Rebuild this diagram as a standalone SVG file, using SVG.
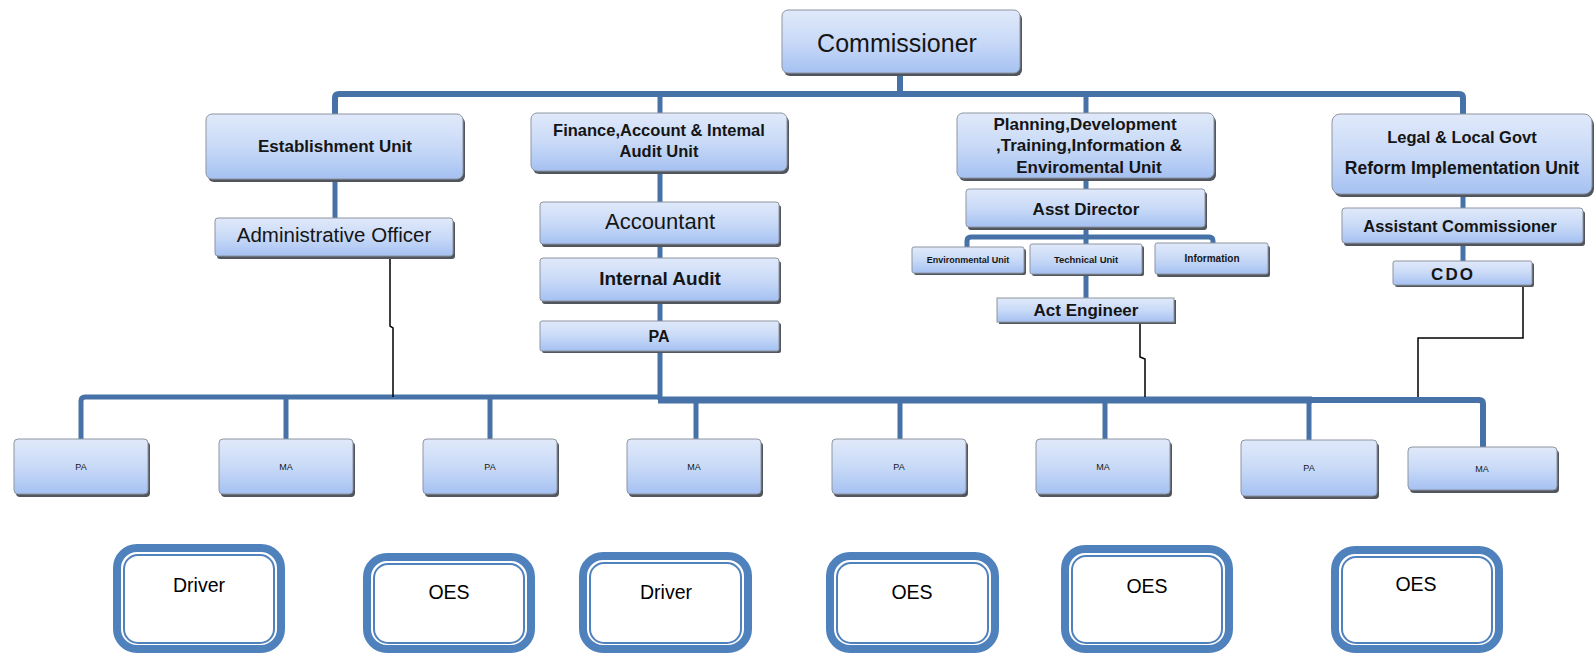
<svg xmlns="http://www.w3.org/2000/svg" width="1594" height="653" viewBox="0 0 1594 653">
  <defs>
    <linearGradient id="boxFill" x1="0" y1="0" x2="0" y2="1">
      <stop offset="0" stop-color="#e0e9fa"/>
      <stop offset="0.5" stop-color="#c9daf7"/>
      <stop offset="1" stop-color="#a5c1f2"/>
    </linearGradient>
    <style>
      .sh { fill: #50555e; }
      .bx { fill: url(#boxFill); stroke: #8e95a0; stroke-width: 1; }
      .t { font-family: "Liberation Sans", Arial, sans-serif; text-anchor: middle; fill: #151515; }
      .b { font-weight: bold; }
      .bus { fill: none; stroke: #4672a8; stroke-linejoin: round; stroke-linecap: butt; }
      .w6 { stroke-width: 6; }
      .w5 { stroke-width: 5; }
      .w7 { stroke-width: 7; }
      .thin { fill: none; stroke: #000; stroke-width: 1.5; }
      .outer { fill: #fff; stroke: #4f81bd; stroke-width: 8; }
      .inner { fill: none; stroke: #4f81bd; stroke-width: 2; }
      .lbl { font-family: "Liberation Sans", Arial, sans-serif; text-anchor: middle; fill: #000; font-size: 19.5px; }
    </style>
  </defs>

  <rect x="0" y="0" width="1594" height="653" fill="#fff"/>

  <!-- connectors -->
  <g id="connectors">
    <!-- top bus and unit stems -->
    <path class="bus w6" d="M335,114 V98 Q335,94 339,94 H1459 Q1463,94 1463,98 V114"/>
    <path class="bus w6" d="M900,73 V94"/>
    <path class="bus w5" d="M660,94 V113"/>
    <path class="bus w5" d="M1086,94 V113"/>
    <!-- establishment chain -->
    <path class="bus w5" d="M335,179 V218"/>
    <!-- finance chain -->
    <path class="bus w5" d="M660,171 V202 M660,244 V258 M660,301 V321 M660,351 V400"/>
    <!-- planning chain -->
    <path class="bus w5" d="M1086,178 V189 M1086,227 V298"/>
    <path class="bus w5" d="M967,247 V241 Q967,237 971,237 H1209 Q1213,237 1213,241 V243"/>
    <!-- legal chain -->
    <path class="bus w5" d="M1463,194 V208 M1463,243 V261"/>
    <!-- lower bus -->
    <path class="bus w5" d="M81,439 V401 Q81,397 85,397 H660"/>
    <path class="bus w7" d="M658,400 H1312"/>
    <path class="bus w5" d="M1309,400 V440"/>
    <path class="bus w6" d="M1309,400 H1479 Q1483,400 1483,404 V447"/>
    <path class="bus w5" d="M286,397 V439 M490,397 V439 M696,400 V439 M900,400 V439 M1105,400 V439"/>
    <!-- thin reporting lines -->
    <path class="thin" d="M390,256 V326 L393,328 V397"/>
    <path class="thin" d="M1140,322 V357 L1145,359 V397"/>
    <path class="thin" d="M1523,285 V338 H1418 V397"/>
  </g>

  <g id="commissioner">
    <rect class="sh" x="784" y="13" width="238" height="63" rx="6"/>
    <rect class="bx" x="782" y="10" width="238" height="63" rx="6"/>
    <text class="t" x="897" y="52" font-size="25">Commissioner</text>
  </g>

  <g id="establishment-unit">
    <rect class="sh" x="208" y="117" width="257" height="65" rx="6"/>
    <rect class="bx" x="206" y="114" width="257" height="65" rx="6"/>
    <text class="t b" x="335" y="152" font-size="17">Establishment Unit</text>
  </g>

  <g id="administrative-officer">
    <rect class="sh" x="217" y="221" width="238" height="38" rx="3"/>
    <rect class="bx" x="215" y="218" width="238" height="38" rx="3"/>
    <text class="t" x="334" y="242" font-size="20.5">Administrative Officer</text>
  </g>

  <g id="finance-unit">
    <rect class="sh" x="533" y="116" width="256" height="58" rx="6"/>
    <rect class="bx" x="531" y="113" width="256" height="58" rx="6"/>
    <text class="t b" x="659" y="136" font-size="16.5">Finance,Account &amp; Intemal</text>
    <text class="t b" x="659" y="157" font-size="16.5">Audit Unit</text>
  </g>

  <g id="accountant">
    <rect class="sh" x="542" y="205" width="239" height="42" rx="3"/>
    <rect class="bx" x="540" y="202" width="239" height="42" rx="3"/>
    <text class="t" x="660" y="229" font-size="22">Accountant</text>
  </g>

  <g id="internal-audit">
    <rect class="sh" x="542" y="261" width="239" height="43" rx="3"/>
    <rect class="bx" x="540" y="258" width="239" height="43" rx="3"/>
    <text class="t b" x="660" y="285" font-size="19">Internal Audit</text>
  </g>

  <g id="finance-pa">
    <rect class="sh" x="542" y="323" width="239" height="30" rx="2"/>
    <rect class="bx" x="540" y="321" width="239" height="30" rx="2"/>
    <text class="t b" x="659" y="342" font-size="16">PA</text>
  </g>

  <g id="planning-unit">
    <rect class="sh" x="959" y="116" width="257" height="65" rx="6"/>
    <rect class="bx" x="957" y="113" width="257" height="65" rx="6"/>
    <text class="t b" x="1085" y="130" font-size="17">Planning,Development</text>
    <text class="t b" x="1089" y="151" font-size="17">,Training,Information &amp;</text>
    <text class="t b" x="1089" y="173" font-size="17">Enviromental Unit</text>
  </g>

  <g id="asst-director">
    <rect class="sh" x="968" y="192" width="239" height="38" rx="3"/>
    <rect class="bx" x="966" y="189" width="239" height="38" rx="3"/>
    <text class="t b" x="1086" y="215" font-size="17">Asst Director</text>
  </g>

  <g id="environmental-unit">
    <rect class="sh" x="914" y="249" width="112" height="26" rx="2"/>
    <rect class="bx" x="912" y="247" width="112" height="26" rx="2"/>
    <text class="t b" x="968" y="263" font-size="9">Environmental Unit</text>
  </g>

  <g id="technical-unit">
    <rect class="sh" x="1032" y="246" width="112" height="30" rx="2"/>
    <rect class="bx" x="1030" y="244" width="112" height="30" rx="2"/>
    <text class="t b" x="1086" y="263" font-size="9.5">Technical Unit</text>
  </g>

  <g id="information">
    <rect class="sh" x="1157" y="246" width="113" height="31" rx="2"/>
    <rect class="bx" x="1155" y="243" width="113" height="31" rx="2"/>
    <text class="t b" x="1212" y="262" font-size="10">Information</text>
  </g>

  <g id="act-engineer">
    <rect class="sh" x="999" y="300" width="177" height="24"/>
    <rect class="bx" x="997" y="298" width="177" height="24"/>
    <text class="t b" x="1086" y="316" font-size="17">Act Engineer</text>
  </g>

  <g id="legal-unit">
    <rect class="sh" x="1334" y="117" width="260" height="80" rx="8"/>
    <rect class="bx" x="1332" y="114" width="260" height="80" rx="8"/>
    <text class="t b" x="1462" y="143" font-size="16.5">Legal &amp; Local Govt</text>
    <text class="t b" x="1462" y="174" font-size="17.5">Reform Implementation Unit</text>
  </g>

  <g id="assistant-commissioner">
    <rect class="sh" x="1344" y="211" width="241" height="35" rx="3"/>
    <rect class="bx" x="1342" y="208" width="241" height="35" rx="3"/>
    <text class="t b" x="1460" y="232" font-size="16.5">Assistant Commissioner</text>
  </g>

  <g id="cdo">
    <rect class="sh" x="1395" y="263" width="139" height="24" rx="2"/>
    <rect class="bx" x="1393" y="261" width="139" height="24" rx="2"/>
    <text class="t b" x="1453" y="280" font-size="17" letter-spacing="2">CDO</text>
  </g>

  <!-- staff row -->
  <g id="staff-pa-1">
    <rect class="sh" x="16" y="442" width="134" height="55" rx="4"/>
    <rect class="bx" x="14" y="439" width="134" height="55" rx="4"/>
    <text class="t" x="81" y="470" font-size="9">PA</text>
  </g>
  <g id="staff-ma-1">
    <rect class="sh" x="221" y="442" width="134" height="55" rx="4"/>
    <rect class="bx" x="219" y="439" width="134" height="55" rx="4"/>
    <text class="t" x="286" y="470" font-size="9">MA</text>
  </g>
  <g id="staff-pa-2">
    <rect class="sh" x="425" y="442" width="134" height="55" rx="4"/>
    <rect class="bx" x="423" y="439" width="134" height="55" rx="4"/>
    <text class="t" x="490" y="470" font-size="9">PA</text>
  </g>
  <g id="staff-ma-2">
    <rect class="sh" x="629" y="442" width="134" height="55" rx="4"/>
    <rect class="bx" x="627" y="439" width="134" height="55" rx="4"/>
    <text class="t" x="694" y="470" font-size="9">MA</text>
  </g>
  <g id="staff-pa-3">
    <rect class="sh" x="834" y="442" width="134" height="55" rx="4"/>
    <rect class="bx" x="832" y="439" width="134" height="55" rx="4"/>
    <text class="t" x="899" y="470" font-size="9">PA</text>
  </g>
  <g id="staff-ma-3">
    <rect class="sh" x="1038" y="442" width="134" height="55" rx="4"/>
    <rect class="bx" x="1036" y="439" width="134" height="55" rx="4"/>
    <text class="t" x="1103" y="470" font-size="9">MA</text>
  </g>
  <g id="staff-pa-4">
    <rect class="sh" x="1243" y="443" width="136" height="56" rx="4"/>
    <rect class="bx" x="1241" y="440" width="136" height="56" rx="4"/>
    <text class="t" x="1309" y="471" font-size="9">PA</text>
  </g>
  <g id="staff-ma-4">
    <rect class="sh" x="1410" y="450" width="149" height="43" rx="4"/>
    <rect class="bx" x="1408" y="447" width="149" height="43" rx="4"/>
    <text class="t" x="1482" y="472" font-size="9">MA</text>
  </g>

  <!-- support staff -->
  <g id="driver-1">
    <rect class="outer" x="117" y="548" width="164" height="101" rx="20"/>
    <rect class="inner" x="124" y="555" width="150" height="88" rx="14"/>
    <text class="lbl" x="199" y="592">Driver</text>
  </g>
  <g id="oes-1">
    <rect class="outer" x="367" y="557" width="164" height="92" rx="20"/>
    <rect class="inner" x="374" y="564" width="150" height="79" rx="14"/>
    <text class="lbl" x="449" y="599">OES</text>
  </g>
  <g id="driver-2">
    <rect class="outer" x="583" y="556" width="165" height="93" rx="20"/>
    <rect class="inner" x="590" y="563" width="151" height="80" rx="14"/>
    <text class="lbl" x="666" y="599">Driver</text>
  </g>
  <g id="oes-2">
    <rect class="outer" x="830" y="556" width="165" height="93" rx="20"/>
    <rect class="inner" x="837" y="563" width="151" height="80" rx="14"/>
    <text class="lbl" x="912" y="599">OES</text>
  </g>
  <g id="oes-3">
    <rect class="outer" x="1065" y="549" width="164" height="100" rx="20"/>
    <rect class="inner" x="1072" y="556" width="150" height="87" rx="14"/>
    <text class="lbl" x="1147" y="593">OES</text>
  </g>
  <g id="oes-4">
    <rect class="outer" x="1335" y="550" width="164" height="99" rx="20"/>
    <rect class="inner" x="1342" y="557" width="150" height="86" rx="14"/>
    <text class="lbl" x="1416" y="591">OES</text>
  </g>
</svg>
